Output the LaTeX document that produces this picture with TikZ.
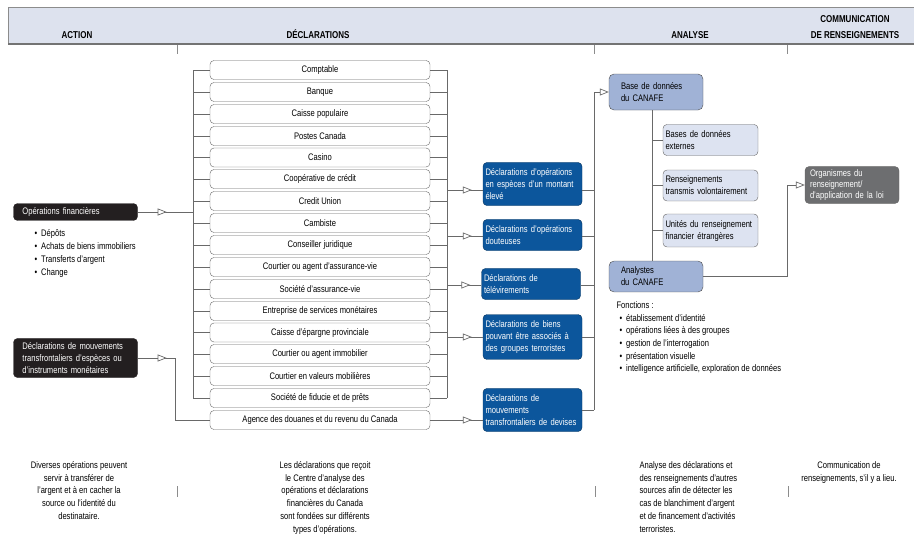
\documentclass[tikz,border=0pt]{standalone}
\usepackage{fontspec}
\setmainfont{Liberation Sans}[FakeStretch=0.8]
\usetikzlibrary{arrows.meta, positioning, decorations.markings}

\definecolor{bandblue}{RGB}{221,226,238}
\definecolor{wiregray}{RGB}{105,105,105}
\definecolor{reportblue}{RGB}{12,86,156}
\definecolor{canafeblue}{RGB}{160,178,214}
\definecolor{sourceblue}{RGB}{221,227,241}
\definecolor{agencygray}{RGB}{109,110,112}
\definecolor{inkblack}{RGB}{35,31,32}

\tikzset{
  base font/.style={font=\fontsize{9.5}{12}\selectfont},
  wire/.style={draw=wiregray, line width=0.7pt},
  opentip/.tip={Triangle[open, fill=white, length=9pt, width=7pt]},
  tipat/.style={postaction={decorate, decoration={markings, mark=at position #1 with {\arrow{opentip}}}}},
  entity/.style={draw=black!60, fill=white, rounded corners=4pt, minimum width=220pt, minimum height=19pt, inner sep=0pt, base font},
  darkbox/.style={fill=inkblack, draw=inkblack, text=white, rounded corners=4pt, text width=106pt, align=left, inner xsep=9pt, inner ysep=4pt, base font},
  report/.style={fill=reportblue, draw=reportblue!60!black, text=white, rounded corners=4pt, text width=94pt, align=left, inner xsep=2.5pt, inner ysep=6pt, base font},
  canafe/.style={fill=canafeblue, draw=black!70, rounded corners=5pt, text width=70pt, align=left, inner xsep=12pt, inner ysep=6pt, base font},
  source/.style={fill=sourceblue, draw=black!60, rounded corners=4pt, text width=90pt, align=left, inner xsep=2.5pt, inner ysep=6pt, base font},
  agency/.style={fill=agencygray, draw=black!60, text=white, rounded corners=4pt, text width=84pt, align=left, inner xsep=5pt, inner ysep=3pt, font=\fontsize{9.5}{11}\selectfont},
  heading/.style={font=\bfseries\fontsize{10}{12}\selectfont, anchor=base},
  coltext/.style={font=\fontsize{9.5}{12.7}\selectfont, align=center, anchor=north},
  sepmark/.style={draw=black!45, line width=0.6pt},
}

\begin{document}
\hyphenpenalty=10000\relax
\begin{tikzpicture}[x=1pt, y=-1pt]
  \useasboundingbox (0,0) rectangle (914,546);

  % Header band
  \fill[bandblue] (8,7) rectangle (914,44);
  \draw[black!45, line width=0.5pt] (8,44) -- (8,7) -- (914,7);
  \draw[black!55, line width=1.2pt] (8,44) -- (914,44);
  \node[heading] (hAction) at (77,38) {ACTION};
  \node[heading] (hDecl) at (318,38) {DÉCLARATIONS};
  \node[heading] (hAnalyse) at (690,38) {ANALYSE};
  \node[heading] (hComm) at (855,23) {COMMUNICATION};
  \node[heading] (hRens) at (855,38) {DE RENSEIGNEMENTS};
  \draw[sepmark] (177,45) -- (177,54);
  \draw[sepmark] (594,45) -- (594,54);
  \draw[sepmark] (787,45) -- (787,54);

  % Action
  \node[darkbox] (opfin) at (75.5,212) {Opérations financières};
  \node[font=\fontsize{9.5}{13}\selectfont, align=left, anchor=north west] (opkinds) at (31,226)
    {\textbullet\hspace{4pt}Dépôts\\ \textbullet\hspace{4pt}Achats de biens immobiliers\\
     \textbullet\hspace{4pt}Transferts d’argent\\ \textbullet\hspace{4pt}Change};
  \node[darkbox] (mouvdecl) at (75.5,358) {Déclarations de mouvements\\ transfrontaliers d’espèces ou\\ d’instruments monétaires};

  % Reporting entities
  \node[entity] (comptable) at (320,70) {Comptable};
  \node[entity] (banque) at (320,92) {Banque};
  \node[entity] (caissepop) at (320,114) {Caisse populaire};
  \node[entity] (postes) at (320,136) {Postes Canada};
  \node[entity] (casino) at (320,157.5) {Casino};
  \node[entity] (coop) at (320,179) {Coopérative de crédit};
  \node[entity] (creditu) at (320,201) {Credit Union};
  \node[entity] (cambiste) at (320,223) {Cambiste};
  \node[entity] (juriste) at (320,245) {Conseiller juridique};
  \node[entity] (courtvie) at (320,267) {Courtier ou agent d’assurance-vie};
  \node[entity] (socvie) at (320,289) {Société d’assurance-vie};
  \node[entity] (esm) at (320,311) {Entreprise de services monétaires};
  \node[entity] (epargne) at (320,332.5) {Caisse d’épargne provinciale};
  \node[entity] (courtimmo) at (320,354) {Courtier ou agent immobilier};
  \node[entity] (valeurs) at (320,376) {Courtier en valeurs mobilières};
  \node[entity] (fiducie) at (320,398) {Société de fiducie et de prêts};
  \node[entity] (agence) at (320,420) {Agence des douanes et du revenu du Canada};

  % Buses around the entities
  \coordinate (lbus) at (193,0);
  \coordinate (rbus) at (447,0);
  \draw[wire] (comptable.west -| lbus) -- (fiducie.west -| lbus);
  \draw[wire] (comptable.east -| rbus) -- (fiducie.east -| rbus);
  \foreach \e in {comptable,banque,caissepop,postes,casino,coop,creditu,cambiste,
                  juriste,courtvie,socvie,esm,epargne,courtimmo,valeurs,fiducie}
    \draw[wire] (\e.west -| lbus) -- (\e.west) (\e.east) -- (\e.east -| rbus);
  \draw[wire, tipat=29pt] (opfin.east) -- (opfin.east -| lbus);
  \draw[wire, tipat=29pt] (mouvdecl.east) -- ++(38,0) |- (agence.west);

  % Reports
  \node[report] (rep1) at (532.5,184) {Déclarations d’opérations\\ en espèces d’un montant\\ élevé};
  \node[report] (rep2) at (532.5,235) {Déclarations d’opérations\\ douteuses};
  \node[report] (rep3) at (531,284) {Déclarations de\\ télévirements};
  \node[report] (rep4) at (532.5,337) {Déclarations de biens\\ pouvant être associés à\\ des groupes terroristes};
  \node[report] (rep5) at (532.5,410) {Déclarations de\\ mouvements\\ transfrontaliers de devises};

  \coordinate (r1) at (447,190);
  \coordinate (r2) at (447,236);
  \coordinate (r3) at (447,285);
  \coordinate (r4) at (447,337);
  \draw[wire, tipat=-11pt] (r1) -- (r1 -| rep1.west);
  \draw[wire, tipat=-11pt] (r2) -- (r2 -| rep2.west);
  \draw[wire, tipat=-11pt] (r3) -- (r3 -| rep3.west);
  \draw[wire, tipat=-11pt] (r4) -- (r4 -| rep4.west);
  \draw[wire, tipat=-11pt] (agence.east) -- (agence.east -| rep5.west);

  % Analysis
  \node[canafe, minimum height=36pt] (base) at (656,92) {Base de données\\ du CANAFE};
  \node[canafe] (analystes) at (656,276.5) {Analystes\\ du CANAFE};
  \node[source] (externes) at (710.5,140) {Bases de données\\ externes};
  \node[source] (volont) at (710.5,185.5) {Renseignements\\ transmis volontairement};
  \node[source] (urfe) at (710.5,230.5) {Unités du renseignement\\ financier étrangères};

  \coordinate (abus) at (594,0);
  \draw[wire] (base.west -| abus) -- (rep5.east -| abus);
  \draw[wire] (rep1.east |- r1) -- (abus |- r1);
  \draw[wire] (rep2.east |- r2) -- (abus |- r2);
  \draw[wire] (rep3.east |- r3) -- (abus |- r3);
  \draw[wire] (rep4.east |- r4) -- (abus |- r4);
  \draw[wire] (rep5.east) -- (rep5.east -| abus);
  \draw[wire, -{opentip}] (base.west -| abus) -- (base.west);

  \coordinate (spine) at (652,0);
  \draw[wire] (spine |- base.south) -- (spine |- analystes.north);
  \draw[wire] (spine |- externes.west) -- (externes.west);
  \draw[wire] (spine |- volont.west) -- (volont.west);
  \draw[wire] (spine |- urfe.west) -- (urfe.west);

  \node[font=\fontsize{9.5}{12.7}\selectfont, align=left, anchor=north west] (fonctions) at (613,298)
    {Fonctions :\\
     \hspace*{3pt}\textbullet\hspace{4pt}établissement d’identité\\
     \hspace*{3pt}\textbullet\hspace{4pt}opérations liées à des groupes\\
     \hspace*{3pt}\textbullet\hspace{4pt}gestion de l’interrogation\\
     \hspace*{3pt}\textbullet\hspace{4pt}présentation visuelle\\
     \hspace*{3pt}\textbullet\hspace{4pt}intelligence artificielle, exploration de données};

  % Disclosure
  \node[agency] (orga) at (852,185) {Organismes du\\ renseignement/\\ d’application de la loi};
  \coordinate (relay) at (787,185);
  \draw[wire, -{opentip}] (analystes.east) -| (relay) -- (orga.west);

  % Column notes
  \node[coltext] (nAction) at (79,458) {Diverses opérations peuvent\\ servir à transférer de\\ l’argent et à en cacher la\\ source ou l’identité du\\ destinataire.};
  \node[coltext] (nDecl) at (325,458) {Les déclarations que reçoit\\ le Centre d’analyse des\\ opérations et déclarations\\ financières du Canada\\ sont fondées sur différents\\ types d’opérations.};
  \node[coltext, align=left, anchor=north west] (nAnalyse) at (636,458) {Analyse des déclarations et\\ des renseignements d’autres\\ sources afin de détecter les\\ cas de blanchiment d’argent\\ et de financement d’activités\\ terroristes.};
  \node[coltext] (nComm) at (849,458) {Communication de\\ renseignements, s’il y a lieu.};
  \draw[sepmark] (177,486) -- (177,497);
  \draw[sepmark] (595,486) -- (595,497);
  \draw[sepmark] (788,486) -- (788,497);

\end{tikzpicture}
\end{document}
